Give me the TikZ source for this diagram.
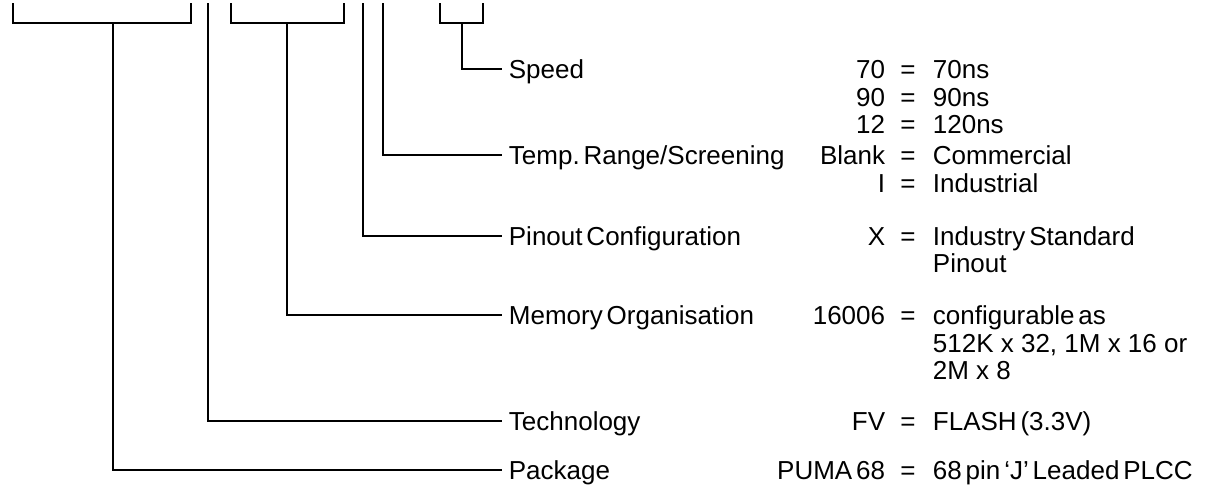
\documentclass[tikz,border=0pt]{standalone}
\usepackage{fontspec}
\setmainfont{Liberation Sans}
\newcommand\ts{\hspace{0.15em}}
\begin{document}
\begin{tikzpicture}[x=1pt,y=-1pt,line width=1.8pt,
  txt/.style={font=\fontsize{26}{30}\selectfont,text height=18.6pt,text depth=0pt,inner ysep=0pt,inner xsep=0pt},
  lab/.style={txt,anchor=west,inner xsep=6pt},
  code/.style={txt,anchor=east},
  eqs/.style={txt,anchor=center},
  val/.style={txt,anchor=west}]
\useasboundingbox (0,0) rectangle (1212,490);
% column positions
\def\xl{502}\def\xc{886}\def\xe{908}\def\xv{932}
% labels
\node[lab] (speed) at (\xl,69) {Speed};
\node[lab] (temp) at (\xl,155) {Temp.\ts Range/Screening};
\node[lab] (pinout) at (\xl,236) {Pinout\ts Configuration};
\node[lab] (memory) at (\xl,315) {Memory\ts Organisation};
\node[lab] (technology) at (\xl,421) {Technology};
\node[lab] (package) at (\xl,470) {Package};
% codes, equals, values
\foreach \n/\y/\c/\v in {s1/69/70/70ns, s2/97/90/90ns, s3/124/12/120ns,
   t1/155/Blank/Commercial, t2/183/I/Industrial}{
  \node[code] (c\n) at (\xc,\y) {\c};
  \node[eqs] (e\n) at (\xe,\y) {=};
  \node[val] (v\n) at (\xv,\y) {\v};
}
\node[code] (cp1) at (\xc,236) {X};
\node[eqs] (ep1) at (\xe,236) {=};
\node[val] (vp1) at (\xv,236) {Industry\ts Standard};
\node[val] (vp2) at (\xv,263) {Pinout};
\node[code] (cm1) at (\xc,315) {16006};
\node[eqs] (em1) at (\xe,315) {=};
\node[val] (vm1) at (\xv,315) {configurable\ts as};
\node[val] (vm2) at (\xv,343) {512K x 32, 1M x 16 or};
\node[val] (vm3) at (\xv,370) {2M x 8};
\node[code] (cf1) at (\xc,421) {FV};
\node[eqs] (ef1) at (\xe,421) {=};
\node[val] (vf1) at (\xv,421) {FLASH\ts(3.3V)};
\node[code] (ck1) at (\xc,470) {PUMA\ts 68};
\node[eqs] (ek1) at (\xe,470) {=};
\node[val] (vk1) at (\xv,470) {68\ts pin\ts ‘J’\ts Leaded\ts PLCC};
% bracket and line coordinates
\coordinate (pkgL) at (13,3); \coordinate (pkgJ) at (113,23); \coordinate (pkgR) at (191,3);
\coordinate (techT) at (208,3);
\coordinate (memL) at (231,3); \coordinate (memJ) at (287,23); \coordinate (memR) at (344,3);
\coordinate (pinT) at (363,3);
\coordinate (tempT) at (383,3);
\coordinate (spdL) at (440,3); \coordinate (spdJ) at (462,23); \coordinate (spdR) at (483,3);
% connectors
\draw (pkgL) |- (pkgJ) -| (pkgR);
\draw (pkgJ) |- (package.west);
\draw (techT) |- (technology.west);
\draw (memL) |- (memJ) -| (memR);
\draw (memJ) |- (memory.west);
\draw (pinT) |- (pinout.west);
\draw (tempT) |- (temp.west);
\draw (spdL) |- (spdJ) -| (spdR);
\draw (spdJ) |- (speed.west);
\end{tikzpicture}
\end{document}
